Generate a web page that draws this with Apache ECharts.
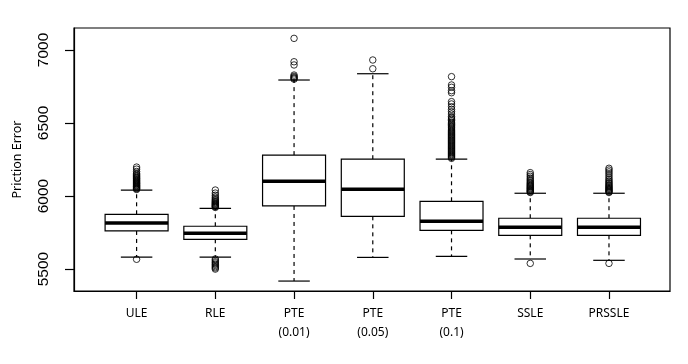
<!DOCTYPE html>
<html>
<head>
<meta charset="utf-8">
<script src="https://cdn.jsdelivr.net/npm/echarts@6/dist/echarts.min.js"></script>
<style>
  html, body { margin: 0; padding: 0; background: #fff; }
  #main { width: 688px; height: 364px; }
</style>
</head>
<body>
<div id="main"></div>
<script>
// 类别 / box statistics
var categories = ['ULE', 'RLE', 'PTE\n(0.01)', 'PTE\n(0.05)', 'PTE\n(0.1)', 'SSLE', 'PRSSLE'];
var lowWhisker = [5582, 5582, 5418, 5580, 5587, 5569, 5560];
var q1 = [5761, 5704, 5932, 5861, 5765, 5731, 5731];
var median = [5815, 5745, 6101, 6047, 5827, 5786, 5786];
var q3 = [5875, 5793, 6280, 6252, 5964, 5848, 5848];
var highWhisker = [6040, 5916, 6794, 6837, 6252, 6019, 6019];
var yTicks = [5500, 6000, 6500, 7000];

// outliers per box
var outULE = [5567, 6045, 6050, 6054, 6058, 6063, 6067, 6072, 6076, 6081, 6086, 6090, 6095, 6100,
  6106, 6111, 6117, 6122, 6128, 6134, 6141, 6148, 6156, 6168, 6184, 6198];
var outRLE = [5569, 5560, 5550, 5542, 5533, 5525, 5516, 5508, 5500,
  5922, 5927, 5931, 5936, 5940, 5945, 5950, 5955, 5961, 5967, 5974, 5982, 5992, 6005, 6020, 6041];
var outPTE01 = [6800, 6806, 6812, 6819, 6828, 6897, 6919, 7079];
var outPTE05 = [6871, 6931];
var outPTE1 = [6258, 6265, 6271, 6278, 6284, 6291, 6298, 6305, 6311, 6318, 6325, 6332, 6339, 6345,
  6352, 6359, 6366, 6373, 6380, 6386, 6394, 6401, 6408, 6415, 6421, 6429, 6436, 6443, 6450, 6458,
  6466, 6473, 6481, 6490, 6498, 6506, 6516, 6525, 6534, 6543, 6561, 6577, 6593, 6611, 6630, 6646,
  6707, 6721, 6744, 6760, 6817];
var outSSLE = [5539, 6024, 6029, 6034, 6039, 6044, 6050, 6055, 6061, 6067, 6073, 6080, 6087, 6095,
  6104, 6113, 6123, 6135, 6147, 6160];
var outPRSSLE = [5539, 6024, 6029, 6034, 6040, 6045, 6051, 6057, 6063, 6070, 6077, 6085, 6093,
  6102, 6112, 6124, 6138, 6152, 6165, 6178, 6190];
var outliers = [outULE, outRLE, outPTE01, outPTE05, outPTE1, outSSLE, outPRSSLE];

var boxData = [];
for (let i = 0; i < categories.length; i++) {
    boxData.push([i + 1, lowWhisker[i], q1[i], median[i], q3[i], highWhisker[i]]);
}
var outlierData = [];
outliers.forEach(function (list, i) {
    list.forEach(function (v) { outlierData.push([i + 1, v]); });
});
var xTicks = categories.map(function (c, i) { return i + 1; });

function renderBox(params, api) {
    var x = api.value(0);
    var lo = api.coord([x, api.value(1)]);
    var b = api.coord([x, api.value(2)]);
    var md = api.coord([x, api.value(3)]);
    var t = api.coord([x, api.value(4)]);
    var hi = api.coord([x, api.value(5)]);
    var w = api.size([0.8, 0])[0];
    var cx = lo[0];
    var half = w / 2, cap = w / 4;
    var solid = { stroke: '#000', lineWidth: 1.2 };
    var dashed = { stroke: '#000', lineWidth: 1.2, lineDash: [4, 4] };
    return {
        type: 'group',
        children: [
            { type: 'line', shape: { x1: cx, y1: t[1], x2: cx, y2: hi[1] }, style: dashed },
            { type: 'line', shape: { x1: cx, y1: b[1], x2: cx, y2: lo[1] }, style: dashed },
            { type: 'line', shape: { x1: cx - cap, y1: hi[1], x2: cx + cap, y2: hi[1] }, style: solid },
            { type: 'line', shape: { x1: cx - cap, y1: lo[1], x2: cx + cap, y2: lo[1] }, style: solid },
            { type: 'rect', shape: { x: cx - half, y: t[1], width: w, height: b[1] - t[1] },
              style: { fill: '#fff', stroke: '#000', lineWidth: 1.2 } },
            { type: 'line', shape: { x1: cx - half, y1: md[1], x2: cx + half, y2: md[1] },
              style: { stroke: '#000', lineWidth: 3.5 } }
        ]
    };
}

var chart = echarts.init(document.getElementById('main'));
var option = {
    backgroundColor: '#fff',
    animation: false,
    grid: {
        left: 74, right: 18, top: 28, bottom: 73,
        show: true, borderColor: '#000', borderWidth: 1.2, backgroundColor: 'transparent'
    },
    xAxis: {
        type: 'value',
        min: 0.205,
        max: 7.775,
        axisLine: { show: true, onZero: false, lineStyle: { color: '#000', width: 1.2 } },
        axisTick: { show: true, customValues: xTicks, length: 8, lineStyle: { color: '#000', width: 1.2 } },
        axisLabel: {
            customValues: xTicks,
            formatter: function (v) { return categories[Math.round(v) - 1]; },
            fontFamily: 'Noto Sans', fontSize: 12, color: '#000', lineHeight: 19, margin: 13
        },
        splitLine: { show: false }
    },
    yAxis: {
        type: 'value',
        min: 5350,
        max: 7150,
        name: 'Priction Error',
        nameLocation: 'middle',
        nameGap: 50,
        nameTextStyle: { fontFamily: 'Noto Sans', fontSize: 12.5, color: '#000' },
        axisLine: { show: true, onZero: false, lineStyle: { color: '#000', width: 1.2 } },
        axisTick: { show: true, customValues: yTicks, length: 9, lineStyle: { color: '#000', width: 1.2 } },
        axisLabel: {
            customValues: yTicks, rotate: 90,
            formatter: function (v) { return String(v); },
            fontFamily: 'Liberation Sans', fontSize: 15.5, color: '#000', margin: 22
        },
        splitLine: { show: false }
    },
    series: [
        {
            type: 'custom',
            renderItem: renderBox,
            data: boxData,
            encode: { x: 0, y: [1, 2, 3, 4, 5] },
            z: 2
        },
        {
            type: 'scatter',
            data: outlierData,
            symbol: 'circle',
            symbolSize: 6.5,
            itemStyle: { color: 'rgba(0,0,0,0)', borderColor: '#000', borderWidth: 1 },
            z: 3
        }
    ]
};
chart.setOption(option);

window.addEventListener('resize', function () {
    chart.resize();
});
</script>
</body>
</html>
